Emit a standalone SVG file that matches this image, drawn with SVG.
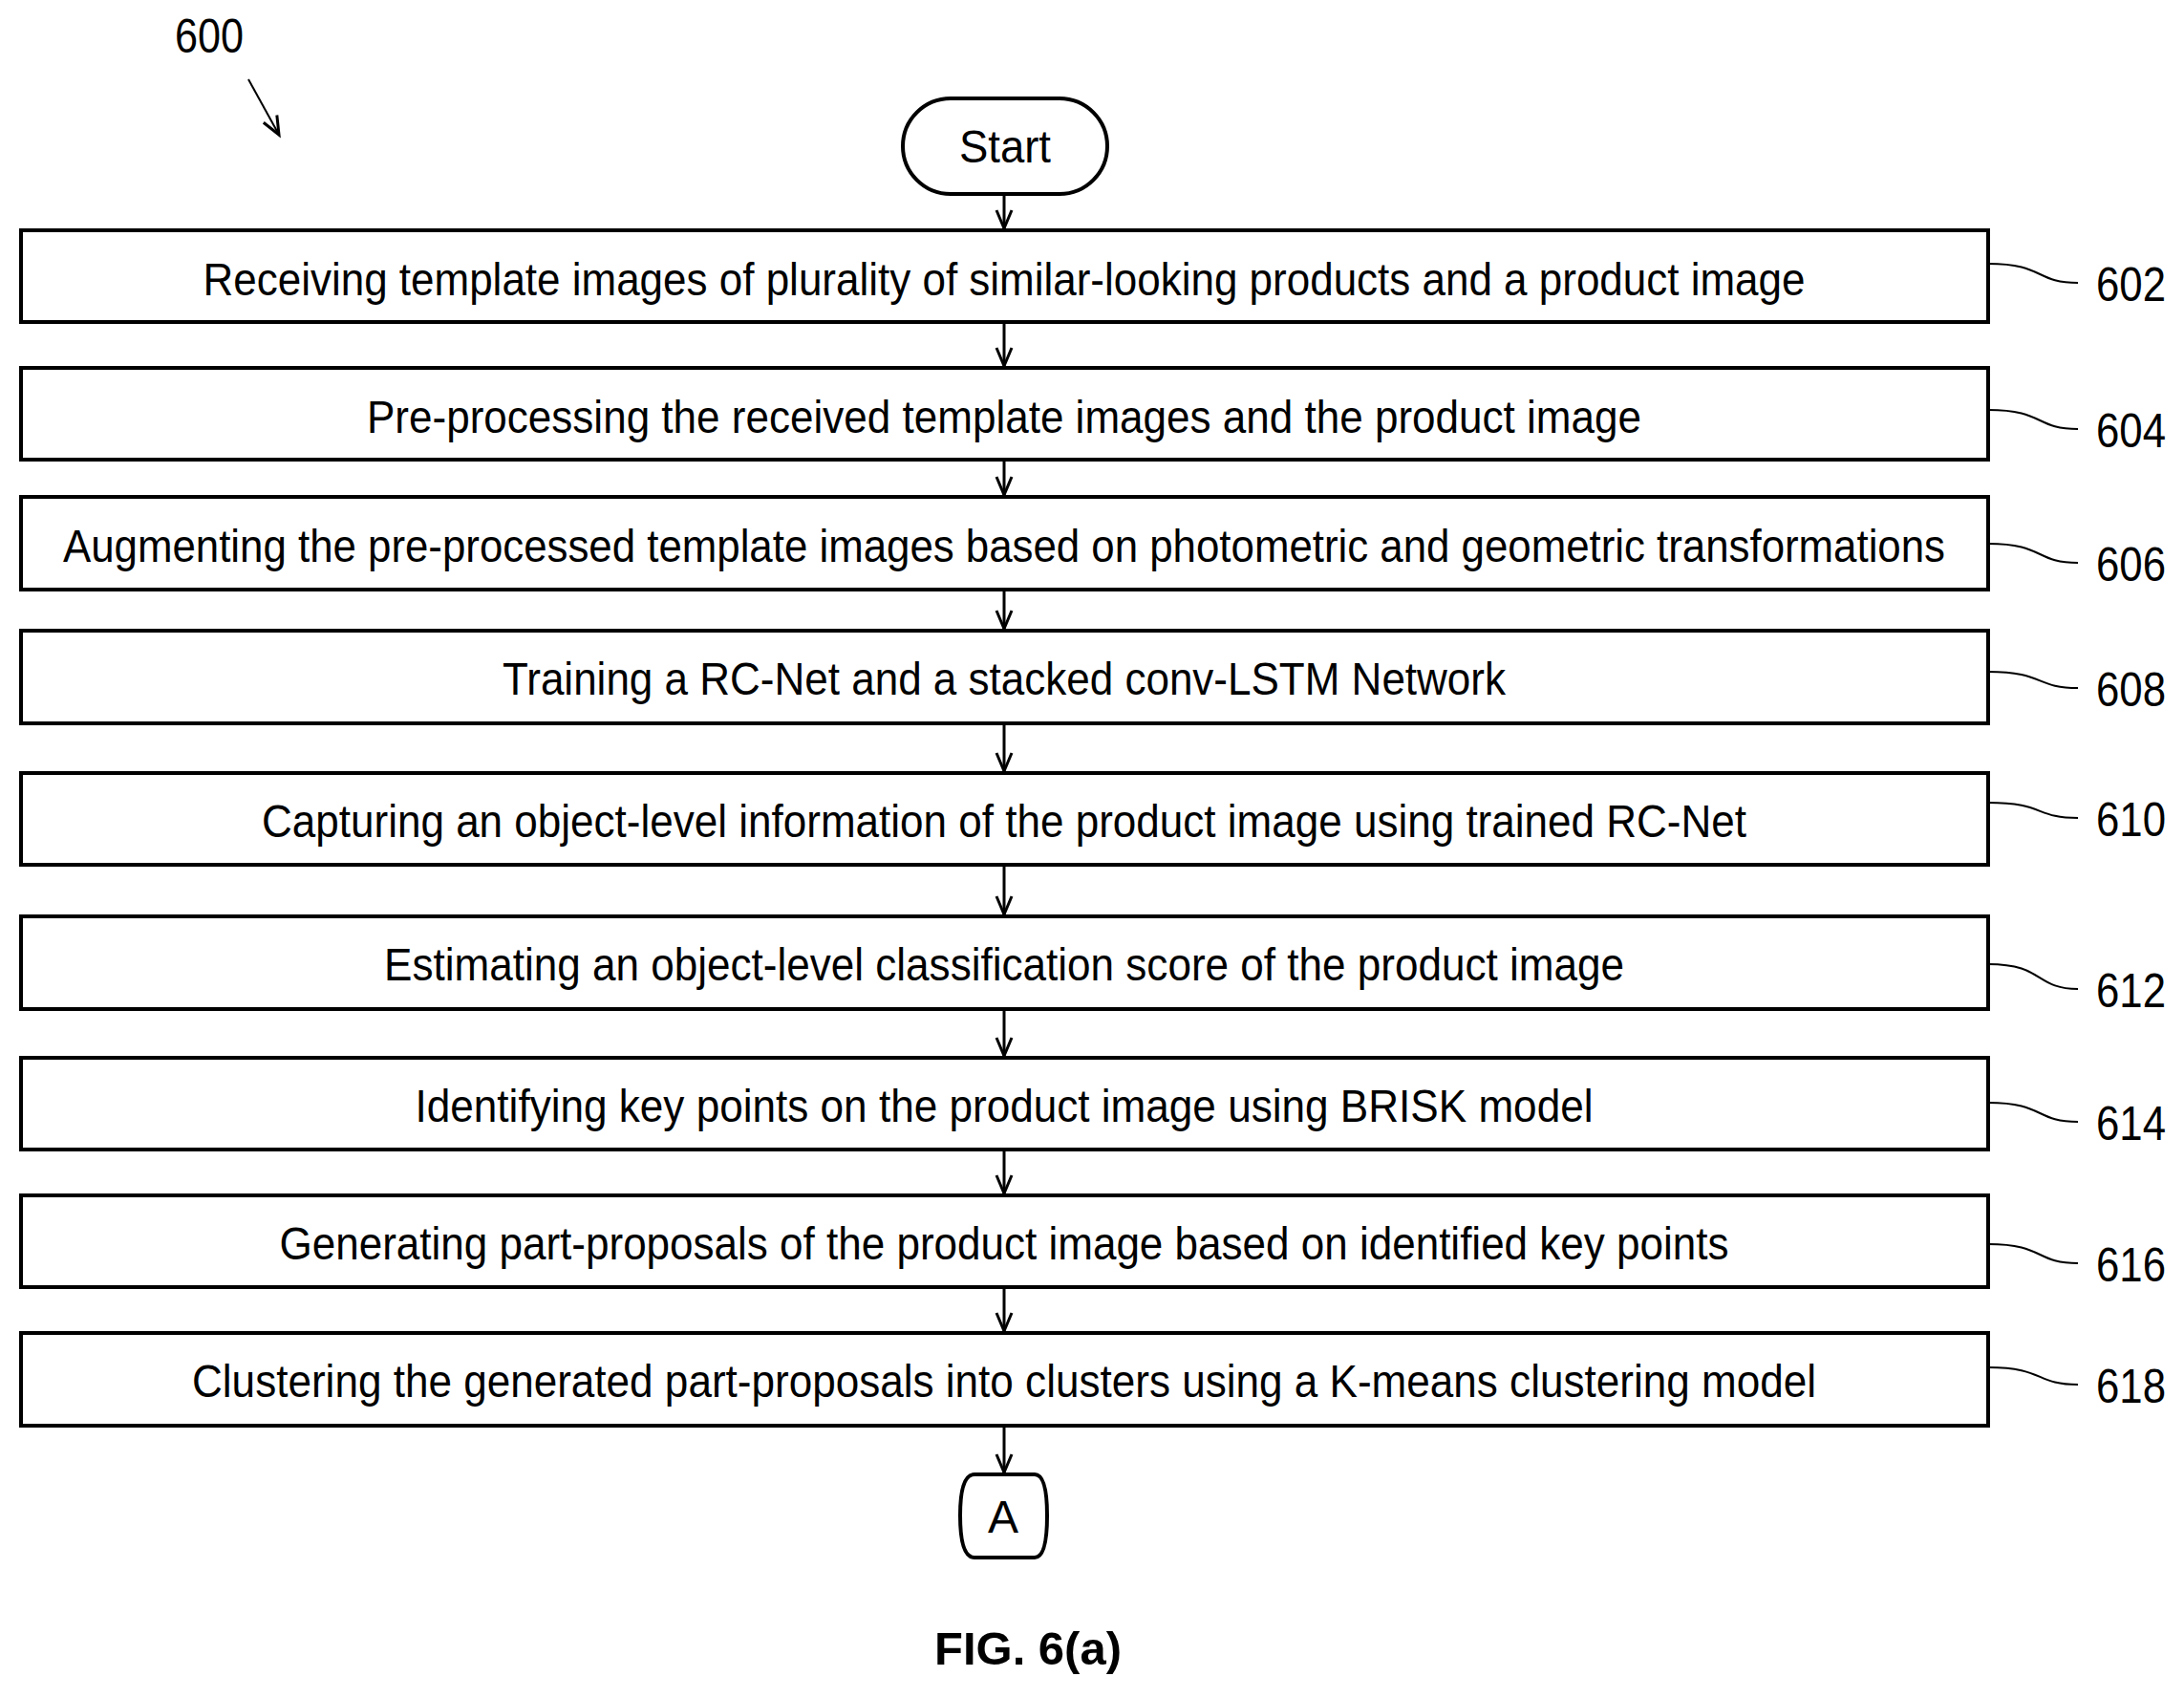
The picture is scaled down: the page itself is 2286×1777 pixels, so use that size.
<svg xmlns="http://www.w3.org/2000/svg" width="2286" height="1777" viewBox="0 0 2286 1777">
<style>
.b{fill:#fff;stroke:#000;stroke-width:4}
.t{font-family:"Liberation Sans",Arial,sans-serif;font-size:48px;fill:#000;text-anchor:middle}
.l{font-family:"Liberation Sans",Arial,sans-serif;font-size:50px;fill:#000}
.c{stroke:#000;stroke-width:3;fill:none}
.ld{stroke:#000;stroke-width:2;fill:none}
</style>
<defs><marker id="ah" markerWidth="24" markerHeight="24" refX="20" refY="10" orient="auto" markerUnits="userSpaceOnUse"><path d="M1,2 L20,10 L1,18" fill="none" stroke="#000" stroke-width="3"/></marker></defs>
<text x="219" y="55" class="l" text-anchor="middle" textLength="72" lengthAdjust="spacingAndGlyphs">600</text>
<g id="connectors">
<line x1="260" y1="83" x2="292" y2="141" class="ld" marker-end="url(#ah)"/>
<line x1="1051" y1="203" x2="1051" y2="239" class="c" marker-end="url(#ah)"/>
<line x1="1051" y1="337" x2="1051" y2="383" class="c" marker-end="url(#ah)"/>
<line x1="1051" y1="481" x2="1051" y2="518" class="c" marker-end="url(#ah)"/>
<line x1="1051" y1="617" x2="1051" y2="658" class="c" marker-end="url(#ah)"/>
<line x1="1051" y1="757" x2="1051" y2="807" class="c" marker-end="url(#ah)"/>
<line x1="1051" y1="905" x2="1051" y2="957" class="c" marker-end="url(#ah)"/>
<line x1="1051" y1="1056" x2="1051" y2="1105" class="c" marker-end="url(#ah)"/>
<line x1="1051" y1="1203" x2="1051" y2="1249" class="c" marker-end="url(#ah)"/>
<line x1="1051" y1="1347" x2="1051" y2="1393" class="c" marker-end="url(#ah)"/>
<line x1="1051" y1="1492" x2="1051" y2="1541" class="c" marker-end="url(#ah)"/>
</g>
<g id="start"><rect x="945" y="103" width="214" height="100" rx="50" class="b"/><text x="1052" y="170" class="t" textLength="96" lengthAdjust="spacingAndGlyphs">Start</text></g>
<g id="n602"><rect x="22" y="241" width="2059" height="96" class="b"/><text x="1051" y="309" class="t" textLength="1677" lengthAdjust="spacingAndGlyphs">Receiving template images of plurality of similar-looking products and a product image</text><path d="M2081,276 C2140,276 2130,296 2175,296" class="ld"/><text x="2194" y="315" class="l" textLength="73" lengthAdjust="spacingAndGlyphs">602</text></g>
<g id="n604"><rect x="22" y="385" width="2059" height="96" class="b"/><text x="1051" y="453" class="t" textLength="1334" lengthAdjust="spacingAndGlyphs">Pre-processing the received template images and the product image</text><path d="M2081,429 C2140,429 2130,449 2175,449" class="ld"/><text x="2194" y="468" class="l" textLength="73" lengthAdjust="spacingAndGlyphs">604</text></g>
<g id="n606"><rect x="22" y="520" width="2059" height="97" class="b"/><text x="1051" y="588" class="t" textLength="1970" lengthAdjust="spacingAndGlyphs">Augmenting the pre-processed template images based on photometric and geometric transformations</text><path d="M2081,569 C2140,569 2130,589 2175,589" class="ld"/><text x="2194" y="608" class="l" textLength="73" lengthAdjust="spacingAndGlyphs">606</text></g>
<g id="n608"><rect x="22" y="660" width="2059" height="97" class="b"/><text x="1051" y="727" class="t" textLength="1050" lengthAdjust="spacingAndGlyphs">Training a RC-Net and a stacked conv-LSTM Network</text><path d="M2081,703 C2140,703 2130,720 2175,720" class="ld"/><text x="2194" y="739" class="l" textLength="73" lengthAdjust="spacingAndGlyphs">608</text></g>
<g id="n610"><rect x="22" y="809" width="2059" height="96" class="b"/><text x="1051" y="876" class="t" textLength="1554" lengthAdjust="spacingAndGlyphs">Capturing an object-level information of the product image using trained RC-Net</text><path d="M2081,840 C2140,840 2130,856 2175,856" class="ld"/><text x="2194" y="875" class="l" textLength="73" lengthAdjust="spacingAndGlyphs">610</text></g>
<g id="n612"><rect x="22" y="959" width="2059" height="97" class="b"/><text x="1051" y="1026" class="t" textLength="1298" lengthAdjust="spacingAndGlyphs">Estimating an object-level classification score of the product image</text><path d="M2081,1009 C2140,1009 2130,1035 2175,1035" class="ld"/><text x="2194" y="1054" class="l" textLength="73" lengthAdjust="spacingAndGlyphs">612</text></g>
<g id="n614"><rect x="22" y="1107" width="2059" height="96" class="b"/><text x="1051" y="1174" class="t" textLength="1233" lengthAdjust="spacingAndGlyphs">Identifying key points on the product image using BRISK model</text><path d="M2081,1154 C2140,1154 2130,1174 2175,1174" class="ld"/><text x="2194" y="1193" class="l" textLength="73" lengthAdjust="spacingAndGlyphs">614</text></g>
<g id="n616"><rect x="22" y="1251" width="2059" height="96" class="b"/><text x="1051" y="1318" class="t" textLength="1517" lengthAdjust="spacingAndGlyphs">Generating part-proposals of the product image based on identified key points</text><path d="M2081,1302 C2140,1302 2130,1322 2175,1322" class="ld"/><text x="2194" y="1341" class="l" textLength="73" lengthAdjust="spacingAndGlyphs">616</text></g>
<g id="n618"><rect x="22" y="1395" width="2059" height="97" class="b"/><text x="1051" y="1462" class="t" textLength="1700" lengthAdjust="spacingAndGlyphs">Clustering the generated part-proposals into clusters using a K-means clustering model</text><path d="M2081,1431 C2140,1431 2130,1449 2175,1449" class="ld"/><text x="2194" y="1468" class="l" textLength="73" lengthAdjust="spacingAndGlyphs">618</text></g>
<g id="A"><path d="M1020,1543 L1083,1543 Q1096,1543 1096,1586 Q1096,1630 1083,1630 L1020,1630 Q1005,1630 1005,1586 Q1005,1543 1020,1543 Z" class="b" stroke-width="3"/><text x="1050" y="1604" class="t">A</text></g>
<text x="1076" y="1742" class="t" font-weight="bold" font-size="52" textLength="196" lengthAdjust="spacingAndGlyphs">FIG. 6(a)</text>
</svg>
